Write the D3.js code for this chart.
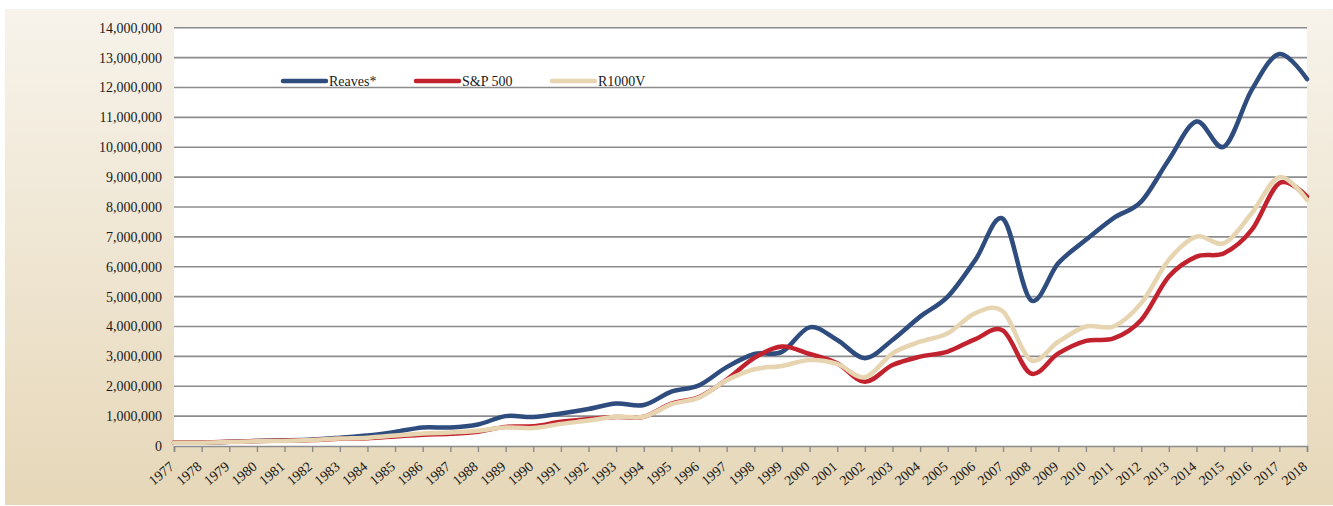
<!DOCTYPE html>
<html>
<head>
<meta charset="utf-8">
<script src="https://cdn.jsdelivr.net/npm/d3@7"></script>
<style>
  body { margin: 0; background: #fff; }
  svg { display: block; font-family: 'Liberation Serif', 'Times New Roman', serif; }
</style>
</head>
<body>
<svg id="chart" width="1333" height="506"></svg>
<script>
const years = d3.range(1977, 2019).map(String);

// values in millions of dollars
const reaves = [0.11, 0.11, 0.14, 0.17, 0.19, 0.22, 0.28, 0.35, 0.47, 0.62, 0.62, 0.72, 1.0, 0.97,
  1.09, 1.24, 1.42, 1.37, 1.82, 2.03, 2.64, 3.08, 3.15, 3.97, 3.55, 2.94, 3.55, 4.33,
  5.0, 6.23, 7.6, 4.89, 6.12, 6.9, 7.63, 8.18, 9.58, 10.86, 10.02, 11.92, 13.12, 12.28];
const sp500 = [0.12, 0.12, 0.14, 0.17, 0.18, 0.2, 0.24, 0.26, 0.32, 0.38, 0.41, 0.48, 0.64, 0.66,
  0.81, 0.9, 0.97, 0.98, 1.42, 1.64, 2.22, 2.95, 3.33, 3.08, 2.77, 2.15, 2.71, 2.99,
  3.16, 3.58, 3.86, 2.43, 3.1, 3.52, 3.6, 4.22, 5.67, 6.34, 6.45, 7.23, 8.8, 8.35];
const r1000v = [0.11, 0.11, 0.13, 0.16, 0.17, 0.2, 0.25, 0.28, 0.35, 0.42, 0.45, 0.51, 0.62, 0.6,
  0.74, 0.85, 0.98, 0.98, 1.4, 1.62, 2.2, 2.57, 2.68, 2.88, 2.75, 2.3, 3.1, 3.49,
  3.77, 4.45, 4.5, 2.88, 3.49, 4.0, 4.0, 4.78, 6.23, 7.01, 6.79, 7.79, 9.0, 8.24];
const yTicks = d3.range(0, 14000001, 1000000);

const series = [
  { name: 'Reaves*', values: reaves, color: '#2e4c7e' },
  { name: 'S&P 500', values: sp500, color: '#c2212e' },
  { name: 'R1000V', values: r1000v, color: '#e7d4b0' }
].map(s => ({ ...s, values: s.values.map(v => v * 1e6) }));

const svg = d3.select('#chart');
const margin = { top: 27.7, right: 26, bottom: 60, left: 174 };
const W = 1333, H = 506;
const x0 = margin.left, x1 = W - margin.right, yTop = margin.top, yBot = H - margin.bottom;

// background gradient panel
const defs = svg.append('defs');
const grad = defs.append('linearGradient').attr('id', 'bg').attr('x1', 0).attr('y1', 0).attr('x2', 0).attr('y2', 1);
grad.append('stop').attr('offset', '0%').attr('stop-color', '#f7f3eb');
grad.append('stop').attr('offset', '100%').attr('stop-color', '#e6d7b8');
svg.append('rect').attr('x', 5).attr('y', 9).attr('width', W - 5).attr('height', H - 10).attr('fill', 'url(#bg)');

const x = d3.scalePoint().domain(years).range([x0, x1]);
const y = d3.scaleLinear().domain([0, 14000000]).range([yBot, yTop]);

// plot area
svg.append('rect').attr('x', x0).attr('y', yTop).attr('width', x1 - x0).attr('height', yBot - yTop).attr('fill', '#fff');

// gridlines
svg.append('g')
  .selectAll('line')
  .data(yTicks.filter(d => d > 0))
  .join('line')
  .attr('x1', x0).attr('x2', x1)
  .attr('y1', d => y(d)).attr('y2', d => y(d))
  .attr('stroke', '#8c8c8c').attr('stroke-width', 1.6);

// y axis labels
const fmt = d3.format(',');
svg.append('g')
  .selectAll('text')
  .data(yTicks)
  .join('text')
  .attr('x', 162).attr('y', d => y(d) + 5)
  .attr('text-anchor', 'end')
  .attr('font-size', 14)
  .attr('fill', '#1a1a1a')
  .text(d => fmt(d));

// x axis
const xAxis = svg.append('g').attr('transform', `translate(0,${yBot})`)
  .call(d3.axisBottom(x).tickSize(6).tickFormat(''));
xAxis.select('.domain').attr('stroke', '#8c8c8c').attr('stroke-width', 1.6);
xAxis.selectAll('.tick line').attr('stroke', '#8c8c8c').attr('stroke-width', 1.4);

svg.append('g')
  .selectAll('text')
  .data(years)
  .join('text')
  .attr('transform', d => `translate(${x(d) + 1},${yBot + 22}) rotate(-40)`)
  .attr('text-anchor', 'end')
  .attr('font-size', 14)
  .attr('fill', '#1a1a1a')
  .text(d => d);

// lines
const line = d3.line()
  .x((d, i) => x(years[i]))
  .y(d => y(d))
  .curve(d3.curveCatmullRom.alpha(0));

svg.append('g')
  .selectAll('path')
  .data(series)
  .join('path')
  .attr('d', d => line(d.values))
  .attr('fill', 'none')
  .attr('stroke', d => d.color)
  .attr('stroke-width', 4.5)
  .attr('stroke-linejoin', 'round')
  .attr('stroke-linecap', 'round');

// legend
const legendX = [283, 416, 552];
const legend = svg.append('g')
  .selectAll('g')
  .data(series)
  .join('g')
  .attr('transform', (d, i) => `translate(${legendX[i]},81)`);
legend.append('line')
  .attr('x1', 0).attr('x2', 43).attr('y1', 0).attr('y2', 0)
  .attr('stroke', d => d.color).attr('stroke-width', 4.5).attr('stroke-linecap', 'round');
legend.append('text')
  .attr('x', 46).attr('y', 5)
  .attr('font-size', 14)
  .attr('fill', '#1a1a1a')
  .text(d => d.name);
</script>
</body>
</html>
